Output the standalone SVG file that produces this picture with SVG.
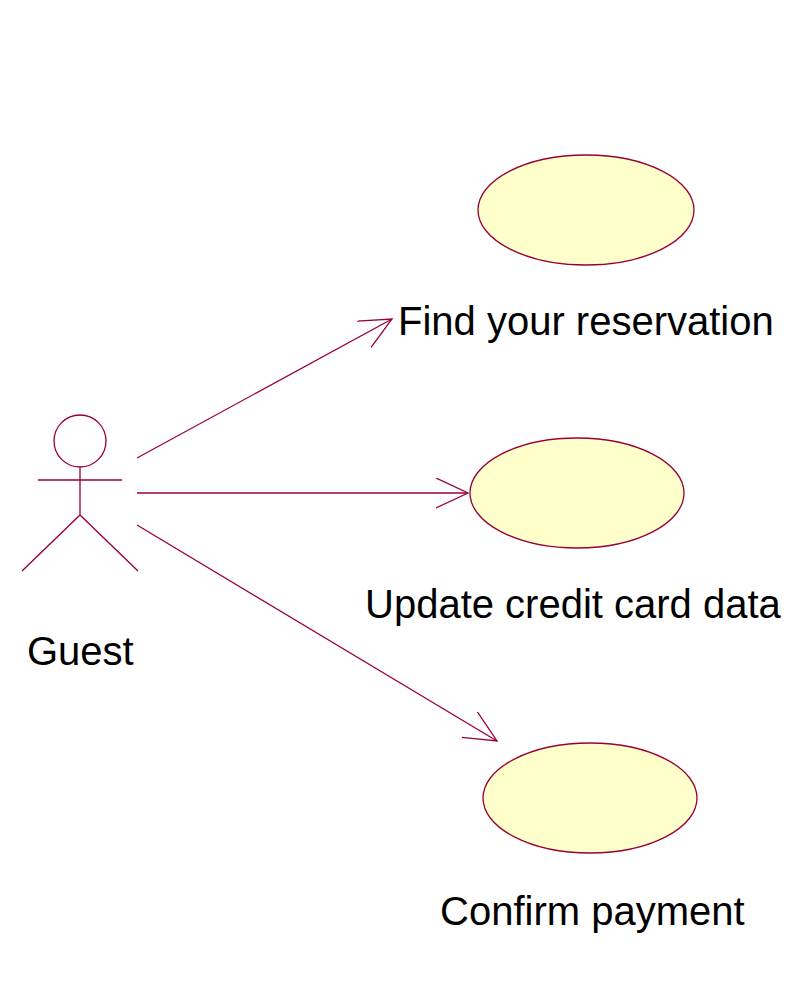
<svg xmlns="http://www.w3.org/2000/svg" width="798" height="984" viewBox="0 0 798 984">
<style>
.s{stroke:#990033;stroke-width:1.3;fill:none}
.uc{fill:#ffffcc;stroke:#990033;stroke-width:1.3}
text{font-family:"Liberation Sans",Arial,sans-serif;font-size:40px;fill:#000}
</style>
<defs><marker id="a" markerWidth="40" markerHeight="40" refX="32" refY="15" orient="auto" markerUnits="userSpaceOnUse"><path d="M0,0 L32,15 L0,30" class="s"/></marker></defs>
<rect width="798" height="984" fill="#fff"/>
<g id="guest">
<circle cx="80" cy="441" r="26" class="s"/>
<path d="M80,467V515M38,480H122M22,571L80,515L138,571" class="s"/>
<text x="27" y="665">Guest</text>
</g>
<g id="uc1"><ellipse cx="586" cy="210" rx="108" ry="55" class="uc"/><text x="398" y="335">Find your reservation</text></g>
<g id="uc2"><ellipse cx="577" cy="493" rx="107" ry="55" class="uc"/><text x="365" y="618">Update credit card data</text></g>
<g id="uc3"><ellipse cx="590" cy="798" rx="107" ry="55" class="uc"/><text x="440" y="925">Confirm payment</text></g>
<g id="connectors">
<line x1="137" y1="458" x2="392" y2="319" class="s" marker-end="url(#a)"/>
<line x1="137" y1="493" x2="468" y2="493" class="s" marker-end="url(#a)"/>
<line x1="137" y1="525" x2="497" y2="741" class="s" marker-end="url(#a)"/>
</g>
</svg>
